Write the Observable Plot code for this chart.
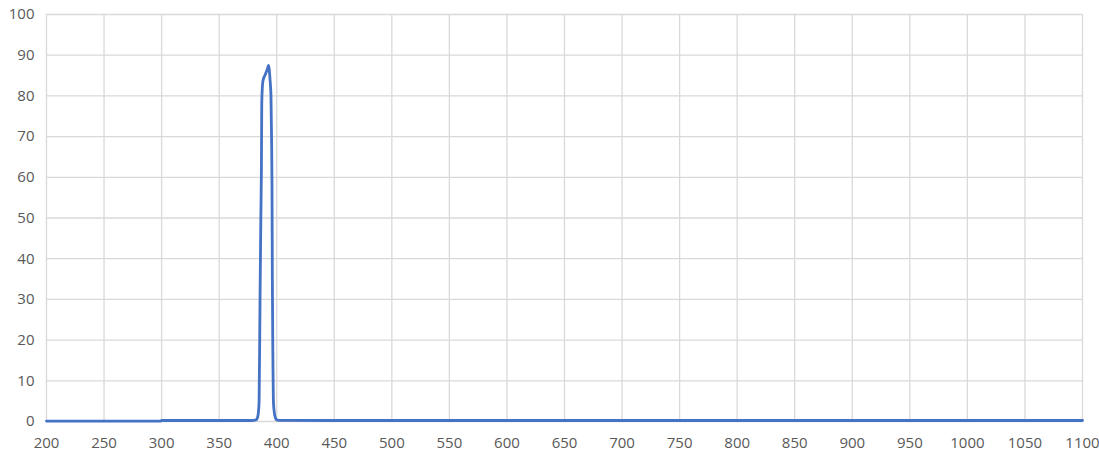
<!DOCTYPE html>
<html>
<head>
<meta charset="utf-8">
<script src="https://cdn.jsdelivr.net/npm/d3@7"></script>
<script src="https://cdn.jsdelivr.net/npm/@observablehq/plot@0.6"></script>
<style>
  html, body { margin: 0; padding: 0; background: #fff; }
  #chart svg { display: block; overflow: visible; }
</style>
</head>
<body>
<div id="chart"></div>
<script>
const wavelength = [200, 250, 299, 300, 350, 375, 380, 382, 383, 384, 384.7, 385.5, 386.2, 386.7, 387, 387.5, 388.1, 390, 392, 392.8, 393.5, 394.2, 395, 395.5, 395.9, 396.2, 396.7, 397.1, 398, 399, 400, 402, 450, 500, 600, 700, 800, 900, 1000, 1100];
const transmission = [0.1, 0.1, 0.1, 0.25, 0.25, 0.25, 0.3, 0.4, 0.7, 2, 5, 30, 50, 62, 78, 82, 83.8, 85.2, 86.7, 87.5, 86.5, 84, 80, 70, 58, 35, 15, 5, 2, 0.8, 0.4, 0.3, 0.25, 0.25, 0.25, 0.25, 0.25, 0.25, 0.25, 0.25];
const xTicks = d3.range(200, 1101, 50);
const yTicks = d3.range(0, 101, 10);

const data = wavelength.map((w, i) => ({w, t: transmission[i]}));

const chart = Plot.plot({
  width: 1099,
  height: 461,
  marginLeft: 46,
  marginRight: 17,
  marginTop: 14,
  marginBottom: 40,
  style: {fontFamily: "Open Sans", fontSize: "15px", color: "#595959", background: "#fff", overflow: "visible"},
  x: {domain: [200, 1100], label: null},
  y: {domain: [0, 100], label: null},
  marks: [
    Plot.gridX(xTicks, {stroke: "#d9d9d9", strokeOpacity: 1, strokeWidth: 1.3}),
    Plot.gridY(yTicks, {stroke: "#d9d9d9", strokeOpacity: 1, strokeWidth: 1.3}),
    Plot.axisX({ticks: xTicks, tickSize: 0, tickPadding: 16, fill: "#595959", tickFormat: d => String(d), label: null}),
    Plot.axisY({ticks: yTicks, tickSize: 0, tickPadding: 12, fill: "#595959", tickFormat: d => String(d), label: null}),
    Plot.line(data, {x: "w", y: "t", stroke: "#4472C4", strokeWidth: 2.8, curve: "monotone-x"})
  ]
});
document.getElementById("chart").appendChild(chart);
</script>
</body>
</html>
